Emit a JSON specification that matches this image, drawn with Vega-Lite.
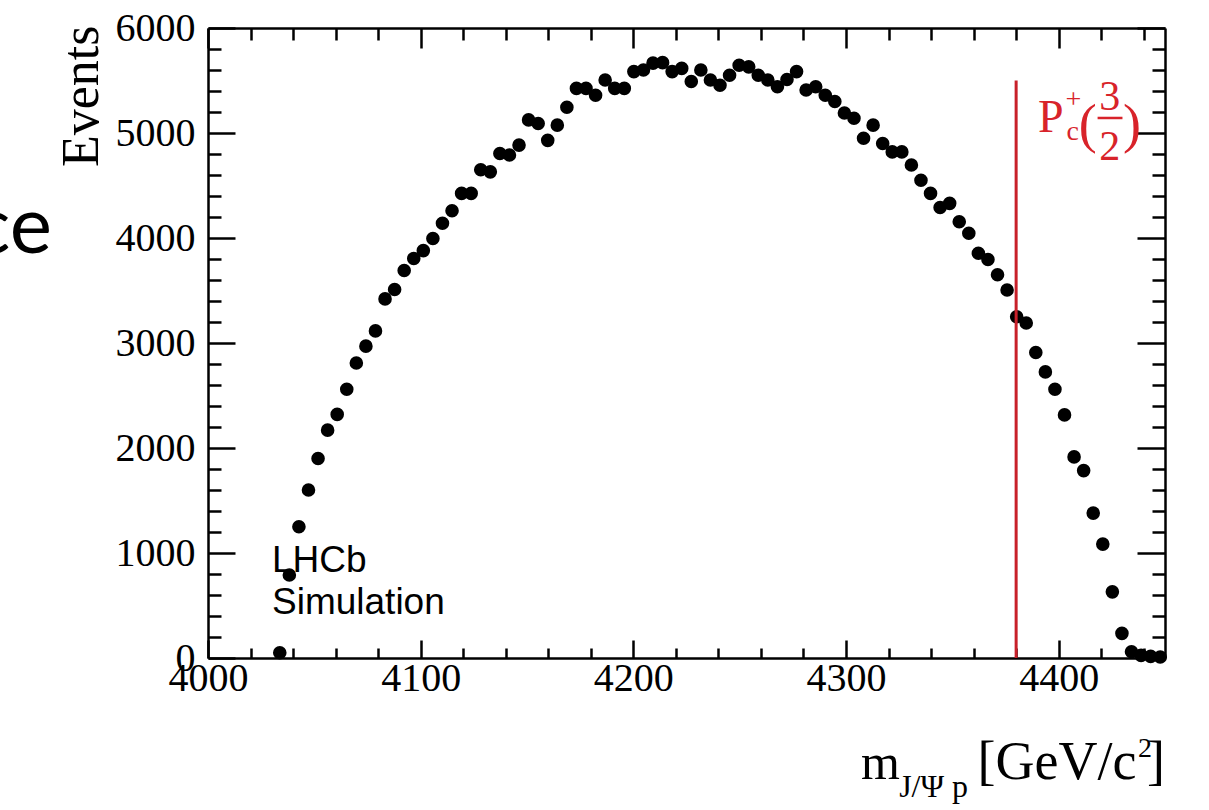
{
  "$schema": "https://vega.github.io/schema/vega-lite/v6.json",
  "width": 957,
  "height": 630,
  "autosize": "none",
  "padding": {"left": 208, "top": 28, "right": 44, "bottom": 152},
  "background": "white",
  "config": {
    "view": {"stroke": null},
    "axis": {
      "grid": false,
      "domainColor": "black",
      "domainWidth": 2.5,
      "tickColor": "black",
      "tickWidth": 2.5,
      "labelFont": "Liberation Serif",
      "labelFontSize": 40,
      "labelColor": "black",
      "labelOverlap": false,
      "labelFlush": false,
      "titleFont": "Liberation Serif",
      "titleColor": "black",
      "titleFontWeight": "normal"
    }
  },
  "layer": [
    {
      "data": {
        "values": [
          {"m": 4033.75, "events": 50}, {"m": 4038.25, "events": 790}, {"m": 4042.75, "events": 1250},
          {"m": 4047.25, "events": 1600}, {"m": 4051.75, "events": 1900}, {"m": 4056.25, "events": 2170},
          {"m": 4060.75, "events": 2320}, {"m": 4065.25, "events": 2560}, {"m": 4069.75, "events": 2810},
          {"m": 4074.25, "events": 2970}, {"m": 4078.75, "events": 3115}, {"m": 4083.25, "events": 3420},
          {"m": 4087.75, "events": 3510}, {"m": 4092.25, "events": 3690}, {"m": 4096.75, "events": 3805},
          {"m": 4101.25, "events": 3880}, {"m": 4105.75, "events": 3995}, {"m": 4110.25, "events": 4140},
          {"m": 4114.75, "events": 4260}, {"m": 4119.25, "events": 4425}, {"m": 4123.75, "events": 4425},
          {"m": 4128.25, "events": 4650}, {"m": 4132.75, "events": 4630}, {"m": 4137.25, "events": 4805},
          {"m": 4141.75, "events": 4790}, {"m": 4146.25, "events": 4885}, {"m": 4150.75, "events": 5125},
          {"m": 4155.25, "events": 5090}, {"m": 4159.75, "events": 4930}, {"m": 4164.25, "events": 5075},
          {"m": 4168.75, "events": 5245}, {"m": 4173.25, "events": 5425}, {"m": 4177.75, "events": 5425},
          {"m": 4182.25, "events": 5360}, {"m": 4186.75, "events": 5505}, {"m": 4191.25, "events": 5425},
          {"m": 4195.75, "events": 5425}, {"m": 4200.25, "events": 5585}, {"m": 4204.75, "events": 5600},
          {"m": 4209.25, "events": 5665}, {"m": 4213.75, "events": 5670}, {"m": 4218.25, "events": 5585},
          {"m": 4222.75, "events": 5615}, {"m": 4227.25, "events": 5490}, {"m": 4231.75, "events": 5600},
          {"m": 4236.25, "events": 5505}, {"m": 4240.75, "events": 5455}, {"m": 4245.25, "events": 5550},
          {"m": 4249.75, "events": 5645}, {"m": 4254.25, "events": 5630}, {"m": 4258.75, "events": 5550},
          {"m": 4263.25, "events": 5505}, {"m": 4267.75, "events": 5440}, {"m": 4272.25, "events": 5510},
          {"m": 4276.75, "events": 5585}, {"m": 4281.25, "events": 5410}, {"m": 4285.75, "events": 5440},
          {"m": 4290.25, "events": 5360}, {"m": 4294.75, "events": 5300}, {"m": 4299.25, "events": 5190},
          {"m": 4303.75, "events": 5140}, {"m": 4308.25, "events": 4950}, {"m": 4312.75, "events": 5075},
          {"m": 4317.25, "events": 4900}, {"m": 4321.75, "events": 4820}, {"m": 4326.25, "events": 4820},
          {"m": 4330.75, "events": 4695}, {"m": 4335.25, "events": 4550}, {"m": 4339.75, "events": 4425},
          {"m": 4344.25, "events": 4290}, {"m": 4348.75, "events": 4330}, {"m": 4353.25, "events": 4155},
          {"m": 4357.75, "events": 4045}, {"m": 4362.25, "events": 3855}, {"m": 4366.75, "events": 3795},
          {"m": 4371.25, "events": 3650}, {"m": 4375.75, "events": 3505}, {"m": 4380.25, "events": 3250},
          {"m": 4384.75, "events": 3190}, {"m": 4389.25, "events": 2910}, {"m": 4393.75, "events": 2725},
          {"m": 4398.25, "events": 2560}, {"m": 4402.75, "events": 2315}, {"m": 4407.25, "events": 1915},
          {"m": 4411.75, "events": 1785}, {"m": 4416.25, "events": 1380}, {"m": 4420.75, "events": 1085},
          {"m": 4425.25, "events": 630}, {"m": 4429.75, "events": 235}, {"m": 4434.25, "events": 60},
          {"m": 4438.75, "events": 25}, {"m": 4443.25, "events": 15}, {"m": 4447.75, "events": 10}
        ]
      },
      "mark": {"type": "circle", "size": 185, "color": "black", "opacity": 1},
      "encoding": {
        "x": {
          "field": "m", "type": "quantitative",
          "scale": {"domain": [4000, 4450], "nice": false, "zero": false},
          "axis": {
            "orient": "bottom",
            "title": null,
            "values": [4000,4020,4040,4060,4080,4100,4120,4140,4160,4180,4200,4220,4240,4260,4280,4300,4320,4340,4360,4380,4400,4420,4440],
            "labelExpr": "datum.value % 100 === 0 ? format(datum.value, 'd') : ''",
            "tickSize": {"condition": {"test": "datum.value % 100 === 0", "value": -18}, "value": -10},
            "labelPadding": 18,
            "labelBaseline": "top"
          }
        },
        "y": {
          "field": "events", "type": "quantitative",
          "scale": {"domain": [0, 6000], "nice": false, "zero": false},
          "axis": {
            "orient": "left",
            "title": "Events",
            "titleFontSize": 52,
            "titleAngle": 270,
            "titleAlign": "right",
            "titleBaseline": "alphabetic",
            "titleX": -111,
            "titleY": -3,
            "values": [0,200,400,600,800,1000,1200,1400,1600,1800,2000,2200,2400,2600,2800,3000,3200,3400,3600,3800,4000,4200,4400,4600,4800,5000,5200,5400,5600,5800,6000],
            "labelExpr": "datum.value % 1000 === 0 ? format(datum.value, 'd') : ''",
            "tickSize": {"condition": {"test": "datum.value % 1000 === 0", "value": -27}, "value": -13},
            "labelPadding": 40,
            "labelBaseline": "middle"
          }
        }
      }
    },
    {
      "data": {"values": [{"label": "P_c"}]},
      "mark": {"type": "rule", "color": "#c8202a", "strokeWidth": 3},
      "encoding": {
        "x": {
          "datum": 4380, "type": "quantitative",
          "scale": {"domain": [4000, 4450], "nice": false, "zero": false},
          "axis": {
            "orient": "top",
            "title": null,
            "labels": false,
            "values": [4000,4020,4040,4060,4080,4100,4120,4140,4160,4180,4200,4220,4240,4260,4280,4300,4320,4340,4360,4380,4400,4420,4440],
            "tickSize": {"condition": {"test": "datum.value % 100 === 0", "value": -20}, "value": -12}
          }
        },
        "y": {
          "datum": 0, "type": "quantitative",
          "scale": {"domain": [0, 6000], "nice": false, "zero": false},
          "axis": {
            "orient": "right",
            "title": null,
            "labels": false,
            "values": [0,200,400,600,800,1000,1200,1400,1600,1800,2000,2200,2400,2600,2800,3000,3200,3400,3600,3800,4000,4200,4400,4600,4800,5000,5200,5400,5600,5800,6000],
            "tickSize": {"condition": {"test": "datum.value % 1000 === 0", "value": -28}, "value": -13}
          }
        },
        "y2": {"datum": 5500}
      }
    },
    {
      "data": {"values": [{"t": "P"}]},
      "mark": {"type": "text", "font": "Liberation Serif", "fontSize": 46, "color": "#d8232a", "align": "left", "baseline": "alphabetic"},
      "encoding": {"x": {"datum": 4390.3, "type": "quantitative", "axis": null}, "y": {"datum": 5010, "type": "quantitative", "axis": null}, "text": {"field": "t"}}
    },
    {
      "data": {"values": [{"t": "+"}]},
      "mark": {"type": "text", "font": "Liberation Serif", "fontSize": 28, "color": "#d8232a", "align": "left", "baseline": "alphabetic"},
      "encoding": {"x": {"datum": 4403.2, "type": "quantitative", "axis": null}, "y": {"datum": 5238, "type": "quantitative", "axis": null}, "text": {"field": "t"}}
    },
    {
      "data": {"values": [{"t": "c"}]},
      "mark": {"type": "text", "font": "Liberation Serif", "fontSize": 28, "color": "#d8232a", "align": "left", "baseline": "alphabetic"},
      "encoding": {"x": {"datum": 4403.7, "type": "quantitative", "axis": null}, "y": {"datum": 4933, "type": "quantitative", "axis": null}, "text": {"field": "t"}}
    },
    {
      "data": {"values": [{"t": "("}]},
      "mark": {"type": "text", "font": "Liberation Serif", "fontSize": 54, "color": "#d8232a", "align": "left", "baseline": "alphabetic"},
      "encoding": {"x": {"datum": 4409.4, "type": "quantitative", "axis": null}, "y": {"datum": 4915, "type": "quantitative", "axis": null}, "text": {"field": "t"}}
    },
    {
      "data": {"values": [{"t": "3"}]},
      "mark": {"type": "text", "font": "Liberation Serif", "fontSize": 42, "color": "#d8232a", "align": "center", "baseline": "alphabetic"},
      "encoding": {"x": {"datum": 4424.0, "type": "quantitative", "axis": null}, "y": {"datum": 5219, "type": "quantitative", "axis": null}, "text": {"field": "t"}}
    },
    {
      "data": {"values": [{"t": "bar"}]},
      "mark": {"type": "rule", "color": "#d8232a", "strokeWidth": 2.5},
      "encoding": {"x": {"datum": 4418.3, "type": "quantitative", "axis": null}, "x2": {"datum": 4430.0}, "y": {"datum": 5143, "type": "quantitative", "axis": null}}
    },
    {
      "data": {"values": [{"t": "2"}]},
      "mark": {"type": "text", "font": "Liberation Serif", "fontSize": 42, "color": "#d8232a", "align": "center", "baseline": "alphabetic"},
      "encoding": {"x": {"datum": 4424.0, "type": "quantitative", "axis": null}, "y": {"datum": 4743, "type": "quantitative", "axis": null}, "text": {"field": "t"}}
    },
    {
      "data": {"values": [{"t": ")"}]},
      "mark": {"type": "text", "font": "Liberation Serif", "fontSize": 54, "color": "#d8232a", "align": "left", "baseline": "alphabetic"},
      "encoding": {"x": {"datum": 4430.3, "type": "quantitative", "axis": null}, "y": {"datum": 4915, "type": "quantitative", "axis": null}, "text": {"field": "t"}}
    },
    {
      "data": {"values": [{"t": "LHCb"}]},
      "mark": {"type": "text", "font": "Liberation Sans", "fontSize": 37, "color": "black", "align": "left", "baseline": "alphabetic"},
      "encoding": {"x": {"datum": 4030.1, "type": "quantitative", "axis": null}, "y": {"datum": 819, "type": "quantitative", "axis": null}, "text": {"field": "t"}}
    },
    {
      "data": {"values": [{"t": "Simulation"}]},
      "mark": {"type": "text", "font": "Liberation Sans", "fontSize": 37, "color": "black", "align": "left", "baseline": "alphabetic"},
      "encoding": {"x": {"datum": 4030.1, "type": "quantitative", "axis": null}, "y": {"datum": 419, "type": "quantitative", "axis": null}, "text": {"field": "t"}}
    },
    {
      "data": {"values": [{"t": "m"}]},
      "mark": {"type": "text", "font": "Liberation Serif", "fontSize": 50, "color": "black", "align": "left", "baseline": "alphabetic"},
      "encoding": {"x": {"datum": 4307.0, "type": "quantitative", "axis": null}, "y": {"datum": -1152, "type": "quantitative", "axis": null}, "text": {"field": "t"}}
    },
    {
      "data": {"values": [{"t": "J/Ψ p"}]},
      "mark": {"type": "text", "font": "Liberation Serif", "fontSize": 32, "color": "black", "align": "left", "baseline": "alphabetic"},
      "encoding": {"x": {"datum": 4325.0, "type": "quantitative", "axis": null}, "y": {"datum": -1320, "type": "quantitative", "axis": null}, "text": {"field": "t"}}
    },
    {
      "data": {"values": [{"t": "[GeV/c"}]},
      "mark": {"type": "text", "font": "Liberation Serif", "fontSize": 54, "color": "black", "align": "right", "baseline": "alphabetic"},
      "encoding": {"x": {"datum": 4436.6, "type": "quantitative", "axis": null}, "y": {"datum": -1152, "type": "quantitative", "axis": null}, "text": {"field": "t"}}
    },
    {
      "data": {"values": [{"t": "2"}]},
      "mark": {"type": "text", "font": "Liberation Serif", "fontSize": 28, "color": "black", "align": "right", "baseline": "alphabetic"},
      "encoding": {"x": {"datum": 4443.9, "type": "quantitative", "axis": null}, "y": {"datum": -943, "type": "quantitative", "axis": null}, "text": {"field": "t"}}
    },
    {
      "data": {"values": [{"t": "]"}]},
      "mark": {"type": "text", "font": "Liberation Serif", "fontSize": 54, "color": "black", "align": "right", "baseline": "alphabetic"},
      "encoding": {"x": {"datum": 4450.0, "type": "quantitative", "axis": null}, "y": {"datum": -1152, "type": "quantitative", "axis": null}, "text": {"field": "t"}}
    },
    {
      "data": {"values": [{"t": "ce"}]},
      "mark": {"type": "text", "font": "Lato", "fontSize": 80, "color": "black", "align": "right", "baseline": "alphabetic"},
      "encoding": {"x": {"datum": 3926.6, "type": "quantitative", "axis": null}, "y": {"datum": 3857, "type": "quantitative", "axis": null}, "text": {"field": "t"}}
    }
  ],
  "resolve": {"axis": {"x": "independent", "y": "independent"}}
}
